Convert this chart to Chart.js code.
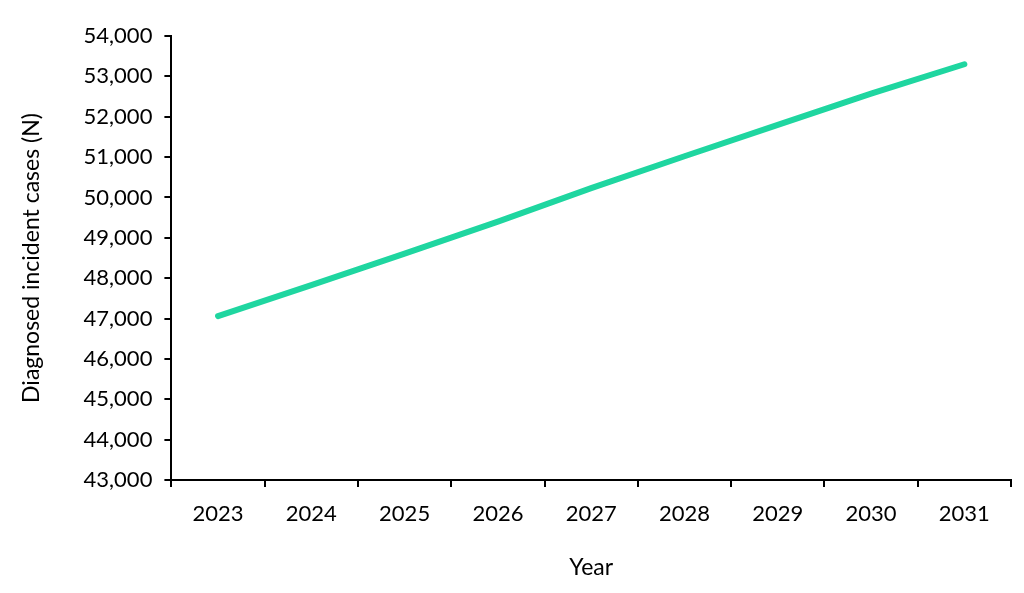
<!DOCTYPE html>
<html>
<head>
<meta charset="utf-8">
<script src="https://cdn.jsdelivr.net/npm/chart.js@4.4.0/dist/chart.umd.min.js"></script>
<style>
  html, body { margin: 0; padding: 0; background: #fff; }
  #wrap { width: 1024px; height: 593px; }
</style>
</head>
<body>
<div id="wrap"><canvas id="casesChart" width="1024" height="593"></canvas></div>
<script>
const years = ["2023", "2024", "2025", "2026", "2027", "2028", "2029", "2030", "2031"];
const cases = [47060, 47830, 48610, 49400, 50230, 51020, 51800, 52570, 53300];
const yMin = 43000;
const yMax = 54000;
const yStep = 1000;

const ctx = document.getElementById("casesChart").getContext("2d");
const fontFamily = "Lato, 'Open Sans', sans-serif";

new Chart(ctx, {
    type: "line",
    data: {
        labels: years,
        datasets: [{
            label: "Diagnosed incident cases",
            data: cases,
            borderColor: "#1fd6a0",
            borderWidth: 6,
            borderCapStyle: "round",
            borderJoinStyle: "round",
            pointRadius: 0,
            tension: 0,
            fill: false
        }]
    },
    options: {
        responsive: false,
        animation: false,
        layout: { padding: { left: 18, right: 13, top: 36, bottom: 12 } },
        plugins: {
            legend: { display: false },
            tooltip: { enabled: false }
        },
        scales: {
            x: {
                offset: true,
                grid: {
                    offset: true,
                    drawOnChartArea: false,
                    tickLength: 7,
                    color: "#000",
                    lineWidth: 2
                },
                border: { color: "#000", width: 2 },
                ticks: {
                    color: "#000",
                    padding: 14,
                    maxRotation: 0,
                    font: { family: fontFamily, size: 22 }
                },
                title: {
                    display: true,
                    text: "Year",
                    color: "#000",
                    padding: { top: 12, bottom: 0 },
                    font: { family: fontFamily, size: 23 }
                }
            },
            y: {
                min: yMin,
                max: yMax,
                grid: {
                    drawOnChartArea: false,
                    tickLength: 7,
                    color: "#000",
                    lineWidth: 2
                },
                border: { color: "#000", width: 2 },
                ticks: {
                    stepSize: yStep,
                    color: "#000",
                    padding: 12,
                    font: { family: fontFamily, size: 22 },
                    callback: function (value) {
                        return value.toLocaleString("en-US");
                    }
                },
                title: {
                    display: true,
                    text: "Diagnosed incident cases (N)",
                    color: "#000",
                    padding: { top: 0, bottom: 26 },
                    font: { family: fontFamily, size: 23 }
                }
            }
        }
    }
});
</script>
</body>
</html>
